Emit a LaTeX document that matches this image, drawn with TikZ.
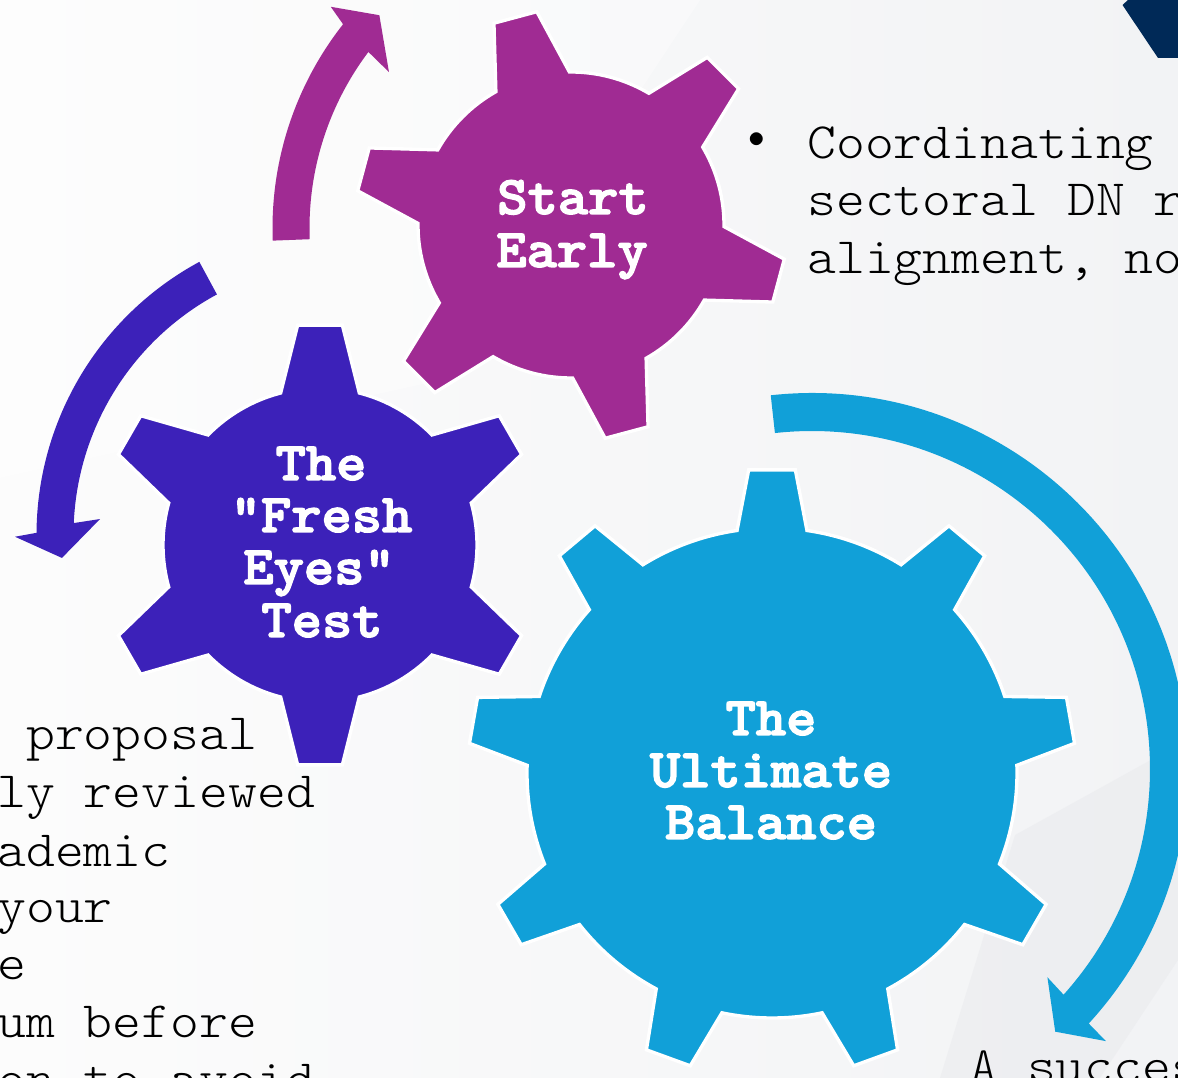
\documentclass[tikz,border=0pt]{standalone}
\usepackage{fontspec}
\newfontfamily\gearfont{lmmonolt10-bold.otf}[FakeBold=2.5]
\newfontfamily\bodyfont{lmmonolt10-regular.otf}
\definecolor{gpurple}{RGB}{160,43,147}
\definecolor{gindigo}{RGB}{60,33,185}
\definecolor{gblue}{RGB}{17,160,216}
\definecolor{navy}{RGB}{0,41,87}
\definecolor{bgleft}{RGB}{252,252,252}
\definecolor{bgright}{RGB}{242,243,245}
\definecolor{bgdark}{RGB}{228,229,233}
% #1 style, #2 cx, #3 cy, #4 teeth, #5 first tooth angle, #6 inner r, #7 outer r, #8 base half-angle, #9 tip half-angle
\newcommand{\gearfill}[9]{%
  \fill[#1,shift={(#2,#3)}] ({#5+#8}:#6)
    \foreach \k in {1,...,#4}{
      -- ({#5-(\k-1)*360/#4+#9}:#7)
      -- ({#5-(\k-1)*360/#4-#9}:#7)
      -- ({#5-(\k-1)*360/#4-#8}:#6)
      arc[start angle={#5-(\k-1)*360/#4-#8}, end angle={#5-\k*360/#4+#8}, radius=#6]
    } -- cycle;}
\begin{document}
\begin{tikzpicture}[x=0.75pt,y=0.75pt,
  body/.style={font=\bodyfont\fontsize{38.2}{46}\selectfont, xscale=1.08, text=black, inner sep=0pt, anchor=base west},
  bulletmark/.style={font=\fontsize{36}{46}\selectfont, text=black, inner sep=0pt, anchor=center},
  glabel/.style={font=\gearfont\fontsize{40.8}{44}\selectfont, xscale=1.06, text=white, inner sep=0pt, anchor=base},
  gearstyle/.style={fill=#1, draw=white, line width=2.5pt, line join=miter}]
\useasboundingbox (0,0) rectangle (1178,1078);
\clip (0,0) rectangle (1178,1078);
% background
\shade[left color=bgleft, right color=bgright] (0,0) rectangle (1178,1078);
\fill[bgdark, opacity=0.35] (940,0) -- (1015,243) -- (1178,333) -- (1178,118) -- (1100,0) -- cycle;
\fill[white, opacity=0.35] (0,1078) -- (700,1078) -- (450,700) -- (0,600) -- cycle;
% top-right navy shape
\fill[navy] (1128,1078) -- (1122.5,1073) -- (1158,1020) -- (1178,1020) -- (1178,1078) -- cycle;
% circular arrows
\fill[gpurple, shift={(602,850)}] (182.2:329.5) arc[start angle=182.2, end angle=141.8, radius=329.5]
  -- (140.8:350) -- (136.3:308) -- (143.8:264) -- (143.0:292.5)
  arc[start angle=143.0, end angle=182.2, radius=292.5] -- cycle;
\fill[gindigo, shift={(347,543)}] (118.4:310.5) arc[start angle=118.4, end angle=179.6, radius=310.5]
  -- (180.3:332) -- (184.6:286) -- (176.3:247.5) -- (177.5:273.5)
  arc[start angle=177.5, end angle=118.4, radius=273.5] -- cycle;
\fill[gblue, shift={(812,309)}] (96.3:376) arc[start angle=96.3, end angle=-42.6, radius=376]
  -- (-42.8:400.5) -- (-47.2:358) -- (-41.5:314.3) -- (-41.9:338)
  arc[start angle=-41.9, end angle=96.3, radius=338] -- cycle;
% gears
\gearfill{gearstyle=gpurple}{571}{853}{6}{105}{153}{216}{14.4}{5.9}
\gearfill{gearstyle=gindigo}{320}{533}{6}{90}{157}{221}{14.5}{5.8}
\gearfill{gearstyle=gblue}{772}{305}{9}{90}{245}{304}{8.2}{4.4}
% gear labels
\node[glabel] (se1) at (573,864) {Start};
\node[glabel] (se2) at (572,811) {Early};
\node[glabel] (fe1) at (321,598) {The};
\node[glabel] (fe2) at (321.5,546) {"Fresh};
\node[glabel] (fe3) at (319,494) {Eyes"};
\node[glabel] (fe4) at (322,441) {Test};
\node[glabel] (ub1) at (771,343) {The};
\node[glabel] (ub2) at (771,291) {Ultimate};
\node[glabel] (ub3) at (771,239) {Balance};
% right text
\node[bulletmark] (bul) at (757,938) {$\bullet$};
\node[body] (r1) at (807,919.5) {Coordinating};
\node[body] (r2) at (807,862) {sectoral DN r};
\node[body] (r3) at (807,804.5) {alignment, no};
% left text
\node[body] (l1) at (25.9,328) {proposal};
\node[body] (l2) at (-3,270) {ly reviewed};
\node[body] (l3) at (-3,211.3) {ademic};
\node[body] (l4) at (-3,155) {your};
\node[body] (l5) at (-3,98) {e};
\node[body] (l6) at (-3,40) {um before};
\node[body] (l7) at (-3,-17.6) {on to avoid};
% bottom-right text
\node[body] (br) at (969,-4) {A succes};
\end{tikzpicture}
\end{document}
